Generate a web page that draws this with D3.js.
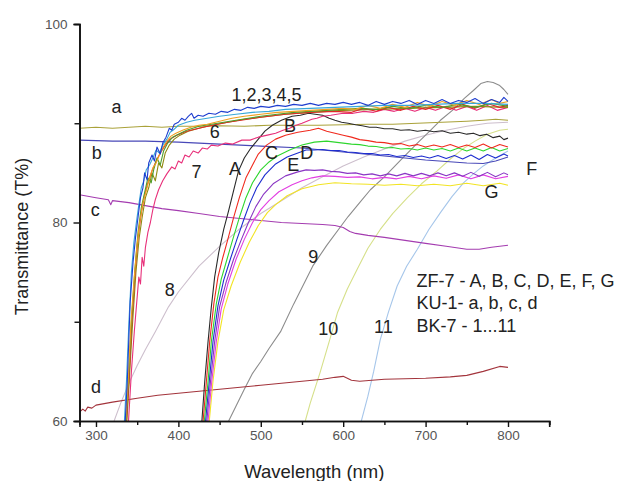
<!DOCTYPE html>
<html>
<head>
<meta charset="utf-8">
<script src="https://cdn.jsdelivr.net/npm/d3@7"></script>
<style>
  html, body { margin: 0; padding: 0; background: #fff; }
  svg text { font-family: Arial, "Liberation Sans", sans-serif; }
</style>
</head>
<body>
<div id="chart"></div>
<script>
// axis ticks
const xMajorTicks = [300, 400, 500, 600, 700, 800];
const xMinorTicks = [350, 450, 550, 650, 750, 850];
const yMajorTicks = [60, 80, 100];
const yMinorTicks = [70, 90];

// KU-1 glass (a..d) - [wavelength nm, T%]
const seriesA_lower = [[280,89.5],[300,89.6],[320,89.5],[340,89.6],[360,89.7],[380,89.6],[400,89.7],[420,89.7],[450,89.75],[480,89.7],[510,89.8],[540,89.8],[570,89.8],[600,89.85],[630,89.9],[660,89.9],[690,90.0],[720,90.1],[750,90.2],[770,90.3],[785,90.4],[800,90.3]];
const seriesB_lower = [[280,88.3],[320,88.2],[360,88.2],[400,88.1],[450,87.9],[500,87.7],[550,87.5],[600,87.1],[650,86.7],[700,86.3],[750,86.0],[770,85.95],[785,86.2],[800,86.6]];
const seriesC_lower = [[280,82.8],[300,82.5],[315,82.3],[318,81.8],[320,82.2],[340,82.0],[360,81.7],[380,81.4],[400,81.2],[425,80.9],[450,80.6],[475,80.4],[500,80.2],[525,80.0],[550,79.9],[575,79.8],[590,79.7],[600,79.5],[608,79.1],[615,78.9],[630,78.7],[650,78.5],[675,78.2],[700,77.9],[725,77.6],[750,77.3],[765,77.3],[780,77.5],[800,77.7]];
const seriesD_lower = [[280,60.9],[284,61.2],[287,61.0],[290,61.4],[295,61.3],[300,61.6],[320,61.9],[350,62.3],[375,62.6],[400,62.8],[425,63.0],[450,63.2],[475,63.4],[500,63.6],[525,63.8],[550,64.0],[575,64.2],[590,64.4],[600,64.5],[610,64.1],[620,64.0],[650,64.2],[700,64.3],[730,64.45],[750,64.6],[770,65.0],[790,65.5],[800,65.4]];

// BK-7 glass (1..11)
const series1 = [[335.5,60],[338,64],[341.5,72],[345,76],[348,78.5],[351,80.5],[354,82.5],[357,83.5],[359,85.0],[362,84.3],[364,86.0],[368,86.8],[371,86.2],[374,87.6],[378,86.9],[381,88.0],[385,88.6],[389,89.5],[392,89.3],[395,89.9],[400,90.1],[404,90.5],[408,90.3],[412,90.7],[416,91.0],[419,90.5],[424,90.8],[430,90.7],[437,91.0],[445,90.9],[452,91.2],[460,91.1],[468,91.4],[476,91.3],[484,91.6],[492,91.5],[500,91.7],[510,91.6],[520,91.8],[530,91.7],[540,91.9],[550,91.8],[560,92.0],[570,91.8],[580,92.0],[590,91.9],[600,92.1],[610,91.9],[620,92.1],[630,91.8],[640,92.2],[650,91.9],[660,92.2],[670,92.0],[680,92.3],[690,91.9],[700,92.3],[710,92.0],[720,92.4],[730,92.0],[740,92.3],[750,92.1],[760,92.5],[770,92.0],[780,92.4],[790,92.1],[795,92.6],[800,92.2]];
const series2 = [[334.5,60],[337,64],[340,70],[343,75],[346,78],[349,80],[352,81.8],[355,83.5],[358,84.2],[361,85.3],[365,85.8],[369,86.5],[373,87.3],[377,87.0],[381,87.8],[386,88.4],[390,89.1],[395,89.4],[400,89.8],[410,90.1],[420,90.3],[435,90.5],[450,90.7],[470,90.9],[490,91.1],[510,91.2],[530,91.4],[560,91.5],[590,91.6],[620,91.7],[650,91.8],[680,91.8],[710,91.9],[740,92.0],[770,92.0],[800,91.9]];
const series3 = [[336,60],[339,64],[342.5,70],[346,74],[349.5,77.5],[353,80],[357,82],[361,83.2],[365,84.5],[369,85.5],[373,86.0],[377,86.8],[381,87.5],[386,88.2],[391,88.7],[397,89.0],[405,89.3],[415,89.6],[425,89.8],[435,89.9],[450,90.2],[465,90.5],[480,90.7],[500,90.9],[520,91.1],[540,91.2],[560,91.3],[580,91.4],[600,91.5],[615,91.4],[630,91.8],[645,91.5],[660,91.9],[675,91.6],[690,92.1],[705,91.7],[720,92.2],[735,91.8],[750,92.3],[765,91.9],[780,92.4],[790,92.0],[800,92.2]];
const series4 = [[336.5,60],[340,65],[343,70],[347,75],[351,79],[355,81.5],[359,83],[363,84.5],[367,84.0],[370,85.3],[374,86.5],[378,85.8],[382,87.2],[387,88.0],[393,88.6],[400,88.9],[410,89.3],[425,89.7],[440,89.9],[455,90.1],[470,90.3],[485,90.5],[500,90.7],[520,90.9],[540,91.1],[560,91.2],[580,91.3],[600,91.4],[620,91.5],[640,91.4],[660,91.7],[680,91.5],[700,91.8],[720,91.6],[740,91.9],[760,91.6],[780,92.0],[800,91.7]];
const series5 = [[337,60],[340,64],[343.5,70],[347.5,75],[351,78.5],[355,81],[359,82.8],[363,84],[368,85.2],[373,86.2],[378,87.0],[384,87.8],[390,88.4],[398,88.8],[410,89.2],[430,89.6],[460,90.1],[500,90.6],[530,90.9],[560,91.1],[590,91.2],[610,91.1],[625,91.5],[640,91.2],[655,91.6],[670,91.3],[685,91.7],[700,91.4],[715,91.8],[730,91.4],[745,91.9],[760,91.5],[775,92.0],[790,91.6],[800,91.8]];
const series6 = [[337.5,60],[341,65],[344.5,70],[348.5,75],[352.5,78.5],[356,80.5],[360,82.5],[364,83.5],[368,85.0],[372,84.2],[376,86.0],[380,85.5],[384,87.0],[389,87.8],[395,88.4],[402,88.8],[412,89.2],[425,89.5],[440,89.8],[460,90.1],[480,90.4],[500,90.6],[530,90.9],[560,91.1],[600,91.3],[640,91.4],[680,91.5],[720,91.6],[760,91.7],[800,91.6]];
const series7 = [[339.5,60],[343,65],[346.5,69],[349.5,72],[352,74.5],[354,73.8],[356,76.5],[358,75.6],[360,77.5],[363,79.0],[366,80.0],[369,81.3],[372,82.3],[376,83.3],[381,84.2],[386,84.9],[392,85.6],[396,85.4],[400,86.2],[404,86.0],[408,86.8],[413,86.6],[418,87.2],[424,87.0],[429,87.5],[435,87.4],[440,87.8],[448,87.7],[457,88.0],[466,87.9],[477,88.3],[487,88.3],[497,88.6],[508,88.8],[518,89.0],[527,89.3],[535,89.5],[543,89.8],[550,90.0],[556,90.2],[562,90.4],[568,90.5],[575,90.7],[585,90.8],[600,91.0],[612,91.0],[625,91.2],[637,91.1],[650,91.4],[662,91.2],[675,91.5],[687,91.2],[700,91.6],[712,91.3],[725,91.7],[737,91.3],[750,91.7],[762,91.3],[775,91.8],[787,91.3],[800,91.6]];
const series8 = [[322,60],[330,61.8],[340,63.8],[350,65.6],[360,67.2],[372,69],[388,71.5],[400,73],[425,75.6],[450,77.6],[475,79.4],[500,80.9],[525,82.2],[550,83.5],[575,84.6],[600,85.7],[625,86.6],[650,87.4],[675,88.2],[700,88.8],[725,89.3],[750,89.7],[775,90.0],[800,90.1]];
const series9 = [[461,60],[470,61.5],[480,63.2],[490,64.8],[500,66.0],[510,67.3],[524,69],[540,71.8],[563,75.6],[580,77.7],[597,79.6],[606,80.6],[620,82.0],[633,83.3],[650,84.6],[670,86.3],[690,88.0],[705,89.2],[718,90.3],[734,91.4],[747,92.5],[758,93.3],[767,94.0],[775,94.2],[782,94.1],[790,93.8],[795,93.4],[800,92.9]];
const series10 = [[554,60],[560,61.8],[572,64.9],[583,68],[593,70.9],[605,73.3],[617,75.3],[630,77.4],[645,79.3],[660,80.9],[678,82.5],[695,83.9],[714,85.2],[730,86.4],[745,87.4],[760,88.2],[775,88.9],[790,89.3],[800,89.4]];
const series11 = [[622,60],[630,62.5],[637,65],[645,68.2],[655,71],[665.5,73.6],[677,75.6],[690,77.3],[704,79.3],[718,81.0],[732,82.6],[746,84.0],[758,84.9],[770,85.7],[785,86.5],[800,87.2]];

// ZF-7 glass (A..G)
const seriesA = [[428.5,60],[432,64],[436,68],[440,71.5],[444,74.5],[449,77],[455,79.3],[461,81.2],[467,83.2],[473,85.2],[480,86.5],[488,87.5],[497,88.4],[505,89.2],[514,89.8],[525,90.3],[538,90.7],[548,90.8],[558,91.0],[566,90.9],[575,90.8],[583,90.5],[590,90.3],[598,90.1],[606,90.0],[615,89.85],[623,89.75],[632,89.6],[640,89.6],[650,89.45],[660,89.45],[670,89.3],[680,89.35],[690,89.2],[700,89.3],[710,89.15],[720,89.25],[730,89.0],[740,89.1],[750,88.9],[758,89.0],[766,88.75],[774,88.9],[782,88.55],[790,88.7],[795,88.35],[800,88.5]];
const seriesB = [[430,60],[434,64],[438,68],[443,71.8],[448,74.5],[454,76.5],[460,78.3],[467,80.5],[474,82.5],[482,84.5],[490,85.8],[497,86.9],[507,87.8],[518,88.4],[530,88.8],[545,89.1],[560,89.3],[570,89.5],[580,89.2],[590,89.0],[600,88.8],[610,88.6],[620,88.35],[630,88.25],[640,88.1],[650,88.05],[660,87.9],[670,87.95],[680,87.7],[690,87.85],[700,87.6],[710,87.8],[720,87.6],[730,87.85],[740,87.55],[750,87.8],[760,87.55],[770,87.9],[780,87.5],[790,87.85],[800,87.6]];
const seriesC = [[431.5,60],[436,64],[440,68],[446,71.8],[452,74.3],[459,76.3],[466,78.3],[474,80.5],[482,82.5],[490,84.0],[500,85.3],[510,86.1],[520,86.7],[535,87.3],[550,87.8],[565,88.1],[580,88.2],[590,88.1],[600,88.0],[610,87.9],[620,87.85],[630,87.7],[640,87.65],[650,87.5],[660,87.55],[670,87.4],[680,87.45],[690,87.3],[700,87.5],[710,87.3],[720,87.45],[730,87.2],[740,87.5],[750,87.2],[760,87.5],[770,87.2],[780,87.55],[790,87.2],[800,87.45]];
const seriesD = [[433,60],[437.5,64],[442,68],[448,71.6],[455,74.2],[463,76.3],[471,78.3],[479,80.2],[487,82.0],[495,83.5],[505,84.8],[518,85.9],[532,86.6],[545,87.0],[555,87.3],[565,87.3],[575,87.35],[585,87.25],[595,87.25],[605,87.1],[615,87.05],[625,86.95],[635,86.95],[645,86.8],[655,86.85],[665,86.65],[675,86.75],[685,86.55],[695,86.7],[705,86.5],[715,86.75],[725,86.45],[735,86.75],[745,86.4],[755,86.8],[765,86.35],[775,86.85],[785,86.5],[795,86.9],[800,86.7]];
const seriesE = [[434.5,60],[439,64],[444,68],[450,71.5],[458,74.0],[467,76.3],[476,78.2],[485,80.0],[494,81.6],[503,82.8],[515,83.9],[530,84.7],[545,85.1],[555,85.3],[565,85.25],[575,85.3],[585,85.15],[595,85.1],[605,84.95],[615,85.0],[625,84.8],[635,84.9],[645,84.7],[655,84.9],[665,84.7],[675,84.95],[685,84.7],[695,84.95],[705,84.7],[715,85.0],[725,84.7],[735,85.0],[745,84.65],[755,85.05],[765,84.65],[775,85.05],[785,84.6],[795,85.0],[800,84.8]];
const seriesF = [[436,60],[440.5,64],[446,68],[452,71.3],[460,73.8],[470,76.3],[480,78.3],[490,80.0],[500,81.3],[510,82.2],[522,83.1],[538,83.8],[550,84.2],[562,84.5],[575,84.7],[590,84.65],[605,84.55],[620,84.6],[635,84.4],[650,84.55],[665,84.4],[680,84.65],[695,84.4],[710,84.7],[725,84.45],[740,84.8],[755,84.4],[770,84.8],[785,84.4],[800,84.65]];
const seriesG = [[437.5,60],[442,64],[448,68],[455,71.2],[464,73.6],[475,76.0],[486,78.0],[497,79.7],[508,81.0],[518,81.8],[532,82.7],[550,83.4],[570,83.8],[590,84.0],[610,83.9],[630,83.85],[650,83.75],[670,83.85],[690,83.7],[710,83.85],[730,83.7],[750,83.95],[770,83.7],[790,83.95],[800,83.75]];

// curve labels: [text, wavelength, T%]
const curveLabels = [
  ["a", 325, 91.7], ["b", 301, 87.1], ["c", 299, 81.3], ["d", 300, 63.5],
  ["1,2,3,4,5", 507, 92.85], ["6", 444, 89.15], ["7", 422, 85.1],
  ["A", 468.7, 85.46], ["B", 535.5, 89.8], ["C", 513, 87.1], ["D", 555.7, 87.1],
  ["E", 539.5, 85.8], ["F", 828.8, 85.46], ["G", 780, 83.1],
  ["8", 389.5, 73.2], ["9", 563.7, 76.55], ["10", 582, 69.3], ["11", 648.7, 69.5]
];
const legendLines = ["ZF-7 - A, B, C, D, E, F, G", "KU-1- a, b, c, d", "BK-7 - 1...11"];

// drawing order: back to front
const curves = [
  { data: series8, color: "#cdbfcd" },
  { data: series9, color: "#8c8c8c" },
  { data: series10, color: "#d6e08a" },
  { data: series11, color: "#a6c6ea" },
  { data: seriesD_lower, color: "#a3343c" },
  { data: seriesC_lower, color: "#a43cb0" },
  { data: seriesB_lower, color: "#4848b8" },
  { data: seriesA_lower, color: "#aaa23a" },
  { data: seriesG, color: "#f2e424" },
  { data: seriesF, color: "#e23ee2" },
  { data: seriesE, color: "#8a36c4" },
  { data: seriesD, color: "#1e2ed0" },
  { data: seriesC, color: "#2ed62e" },
  { data: seriesB, color: "#f02a1e" },
  { data: seriesA, color: "#2a2a2a" },
  { data: series7, color: "#e8307a" },
  { data: series6, color: "#8f8a12" },
  { data: series5, color: "#e02828" },
  { data: series4, color: "#4e9e2c" },
  { data: series3, color: "#f0a020" },
  { data: series2, color: "#3aa8d8" },
  { data: series1, color: "#1f3ecf" }
];

const width = 629;
const height = 481;
const svg = d3.select("#chart").append("svg")
  .attr("width", width)
  .attr("height", height);

const x = d3.scaleLinear().domain([280, 850]).range([79.5, 549.2]);
const y = d3.scaleLinear().domain([60, 100]).range([421, 24]);

const line = d3.line()
  .x(d => x(d[0]))
  .y(d => y(d[1]));

svg.append("defs").append("clipPath").attr("id", "plot")
  .append("rect")
  .attr("x", x(280)).attr("y", y(100))
  .attr("width", x(850) - x(280)).attr("height", y(60) - y(100));

svg.append("g")
  .attr("clip-path", "url(#plot)")
  .selectAll("path")
  .data(curves)
  .join("path")
  .attr("d", d => line(d.data))
  .attr("fill", "none")
  .attr("stroke", d => d.color)
  .attr("stroke-width", 1.1)
  .attr("stroke-linejoin", "round");

// axes
svg.append("g")
  .attr("transform", `translate(0,${y(60)})`)
  .call(d3.axisBottom(x).tickValues(xMajorTicks).tickSize(6).tickPadding(3).tickFormat(d3.format("d")));
svg.append("g")
  .attr("transform", `translate(0,${y(60)})`)
  .call(d3.axisBottom(x).tickValues(xMinorTicks).tickSize(4).tickFormat(""));

svg.append("g")
  .attr("transform", `translate(${x(280)},0)`)
  .call(d3.axisLeft(y).tickValues(yMajorTicks).tickSize(6).tickPadding(6).tickFormat(d3.format("d")));
svg.append("g")
  .attr("transform", `translate(${x(280)},0)`)
  .call(d3.axisLeft(y).tickValues(yMinorTicks).tickSize(5).tickFormat(""));

svg.selectAll(".domain").attr("stroke", "#111").attr("stroke-width", 1.6);
svg.selectAll(".tick line").attr("stroke", "#111").attr("stroke-width", 1.4);
svg.selectAll(".tick text")
  .attr("fill", "#555")
  .style("font-size", "13.5px");

// axis titles
svg.append("text")
  .attr("x", (x(280) + x(850)) / 2)
  .attr("y", 478)
  .attr("text-anchor", "middle")
  .attr("fill", "#222")
  .style("font-size", "18.5px")
  .text("Wavelength (nm)");

svg.append("text")
  .attr("transform", `translate(28,${y(80) + 14}) rotate(-90)`)
  .attr("text-anchor", "middle")
  .attr("fill", "#222")
  .style("font-size", "18px")
  .text("Transmittance (T%)");

// curve labels
svg.append("g")
  .selectAll("text")
  .data(curveLabels)
  .join("text")
  .attr("x", d => x(d[1]))
  .attr("y", d => y(d[2]))
  .attr("dy", "0.36em")
  .attr("text-anchor", "middle")
  .attr("fill", "#222")
  .style("font-size", "18px")
  .text(d => d[0]);

// glass legend
svg.append("g")
  .selectAll("text")
  .data(legendLines)
  .join("text")
  .attr("x", x(689))
  .attr("y", (d, i) => y(74.2) + i * 22.5)
  .attr("dy", "0.36em")
  .attr("fill", "#222")
  .style("font-size", "18px")
  .text(d => d);
</script>
</body>
</html>
